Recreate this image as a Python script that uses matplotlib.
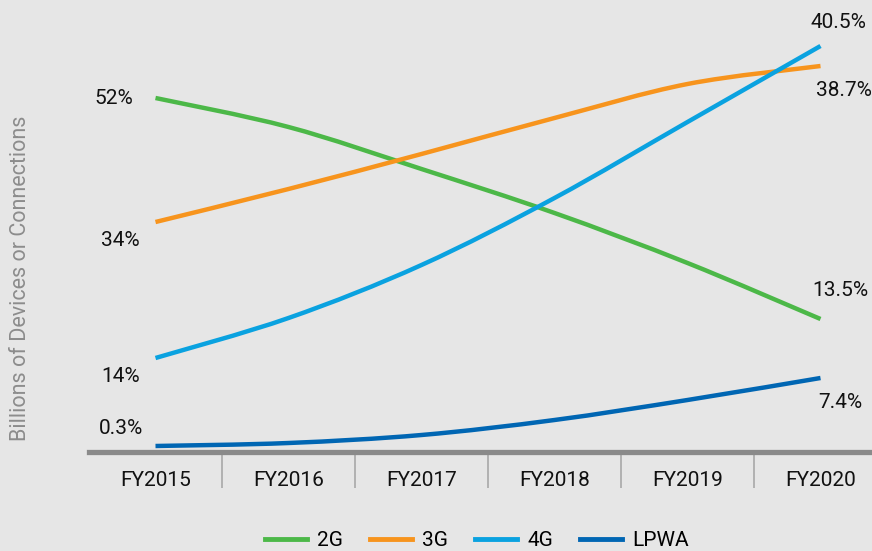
import numpy as np
import matplotlib
matplotlib.use("Agg")
import matplotlib.pyplot as plt
from matplotlib.path import Path
from matplotlib.patches import PathPatch
from matplotlib.lines import Line2D

plt.rcParams["font.family"] = ["Roboto", "DejaVu Sans"]

YEARS = ["FY2015", "FY2016", "FY2017", "FY2018", "FY2019", "FY2020"]
SERIES = ["2G", "3G", "4G", "LPWA"]
COLORS = ["#4cb848", "#f7941d", "#0aa2e0", "#0066b3"]

# billions of devices / connections (approximate)
vals_2g = [7.08, 6.50, 5.66, 4.78, 3.78, 2.66]
vals_3g = [4.60, 5.26, 5.96, 6.68, 7.36, 7.72]
vals_4g = [1.88, 2.68, 3.74, 5.08, 6.60, 8.12]
vals_lpwa = [0.12, 0.18, 0.34, 0.64, 1.04, 1.48]

start_labels = ["52%", "34%", "14%", "0.3%"]
end_labels = ["13.5%", "38.7%", "40.5%", "7.4%"]

# label offsets in pixels from the first / last point
start_off = [(-42, 0), (-35, -18), (-35, -19), (-35, 18)]
end_off = [(20, 28), (23, -25), (18, 24), (20, -24)]


def smooth_path(x, y, t=1.0):
    """Catmull-Rom style bezier through the points."""
    pts = np.column_stack([x, y]).astype(float)
    n = len(pts)
    verts = [pts[0]]
    codes = [Path.MOVETO]
    for i in range(n - 1):
        p0 = pts[i - 1] if i > 0 else pts[i]
        p1, p2 = pts[i], pts[i + 1]
        p3 = pts[i + 2] if i + 2 < n else pts[i + 1]
        c1 = p1 + (p2 - p0) * t / 6
        c2 = p2 - (p3 - p1) * t / 6
        verts += [c1, c2, p2]
        codes += [Path.CURVE4] * 3
    return Path(verts, codes)


bg = "#e6e6e6"
fig = plt.figure(figsize=(8.72, 5.51), dpi=100, facecolor=bg)
ax = fig.add_axes([89 / 872, 99 / 551, 798 / 872, 452 / 551])
ax.set_facecolor(bg)
ax.set_xlim(-0.5, 5.5)
ax.set_ylim(0, 9.04)

x = np.arange(len(YEARS))
data = [vals_2g, vals_3g, vals_4g, vals_lpwa]
for vals, c, sl, el, so, eo in zip(data, COLORS, start_labels, end_labels,
                                   start_off, end_off):
    ax.add_patch(PathPatch(smooth_path(x, vals), facecolor="none", edgecolor=c,
                           lw=3.2, capstyle="butt", zorder=3))
    ax.annotate(sl, (x[0], vals[0]), xytext=so, textcoords="offset pixels",
                ha="center", va="center", fontsize=15, color="#111111")
    ax.annotate(el, (x[-1], vals[-1]), xytext=eo, textcoords="offset pixels",
                ha="center", va="center", fontsize=15, color="#111111")

for s in ["top", "right", "left"]:
    ax.spines[s].set_visible(False)
ax.spines["bottom"].set_color("#8a8a8a")
ax.spines["bottom"].set_linewidth(3.8)
ax.set_yticks([])
ax.set_xticks(x)
ax.set_xticklabels(YEARS, fontsize=15, color="#111111")
ax.tick_params(axis="x", which="major", length=0, pad=14)
ax.set_xticks(x[:-1] + 0.5, minor=True)
ax.tick_params(axis="x", which="minor", length=26, width=1.2, color="#a8a8a8")

fig.text(21 / 872, 1 - 278 / 551, "Billions of Devices or Connections",
         rotation=90, ha="center", va="center", fontsize=15.5, color="#8c8c8c")

handles = [Line2D([], [], color=c, lw=3.5) for c in COLORS]
fig.legend(handles, SERIES, loc="center", bbox_to_anchor=(477 / 872, 1 - 541 / 551),
           ncol=4, frameon=False, fontsize=15, handlelength=2.0, columnspacing=1.3,
           handletextpad=0.5, borderpad=0)

fig.savefig("out.png", dpi=100, facecolor=bg)
